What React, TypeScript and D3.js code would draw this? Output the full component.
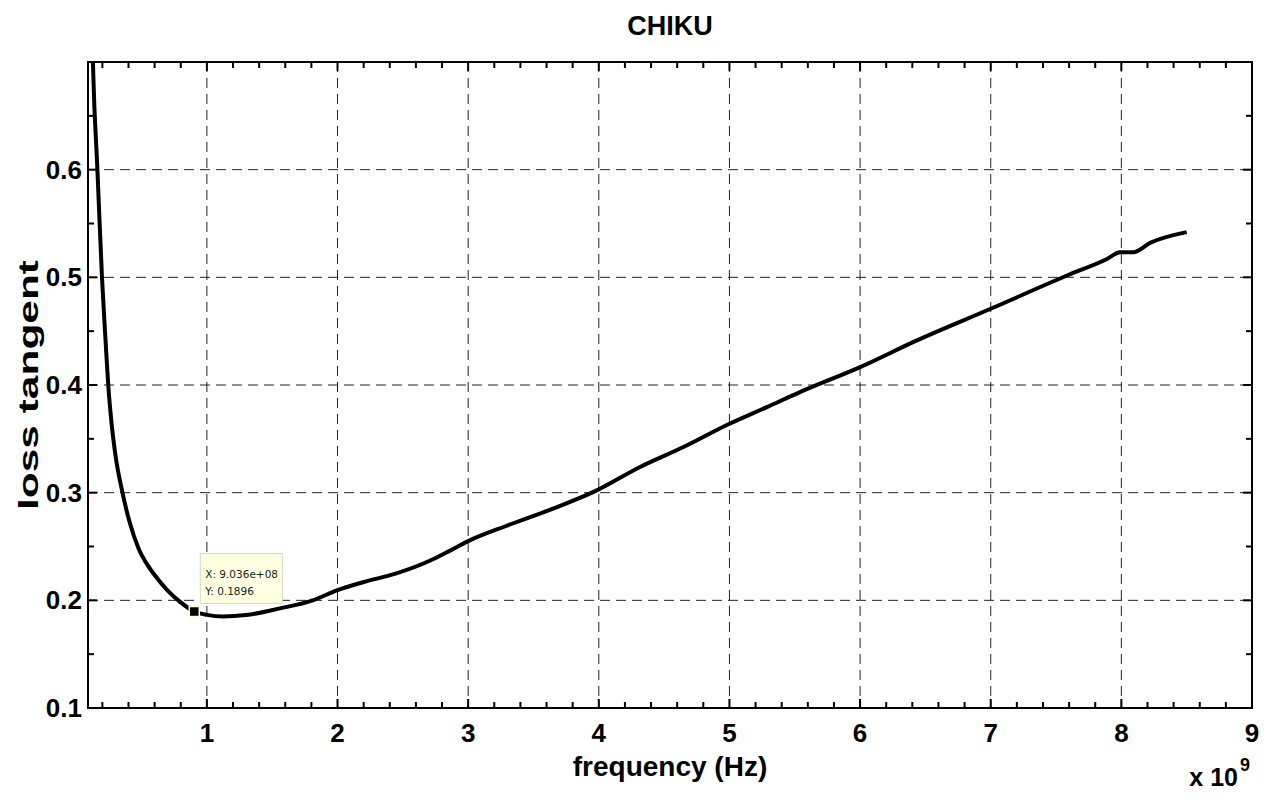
import React, { useRef, useEffect } from "react";
import { select, scaleLinear, line, curveMonotoneX, range } from "d3";

// frequency in units of 1e9 Hz
const freq = [
  0.12, 0.13, 0.162, 0.197, 0.225, 0.245, 0.27, 0.3, 0.354, 0.41, 0.478, 0.55,
  0.6, 0.7, 0.79, 0.9036, 1.0, 1.125, 1.3, 1.56, 1.81, 2.0, 2.2, 2.45, 2.71,
  2.85, 3.0, 3.3, 3.65, 3.96, 4.316, 4.648, 5.0, 5.287, 5.54, 6.0, 6.435, 7.0,
  7.584, 7.89, 7.99, 8.09, 8.22, 8.5,
];
const lossTangent = [
  0.74, 0.69, 0.6, 0.5, 0.44, 0.4, 0.365, 0.335, 0.3, 0.272, 0.248, 0.232,
  0.2235, 0.209, 0.199, 0.1896, 0.1865, 0.185, 0.1863, 0.1925, 0.2, 0.2095,
  0.217, 0.225, 0.237, 0.2455, 0.255, 0.2695, 0.2852, 0.3007, 0.3239, 0.3424,
  0.364, 0.3795, 0.3934, 0.4166, 0.4414, 0.4708, 0.5017, 0.517, 0.5233, 0.5233,
  0.532, 0.542,
];
const xTicks = [1, 2, 3, 4, 5, 6, 7, 8, 9];
const yTicks = [0.1, 0.2, 0.3, 0.4, 0.5, 0.6];
const tipX = 0.9036;
const tipY = 0.1896;

const W = 1275;
const H = 800;
const margin = { top: 62, right: 23, bottom: 92, left: 88 };
const FONT = "'Liberation Sans', Arial, sans-serif";

const App = () => {
  const svgRef = useRef<SVGSVGElement>(null);

  useEffect(() => {
    const svg = select(svgRef.current);
    svg.selectAll("*").remove();

    const x0 = margin.left;
    const x1 = W - margin.right;
    const y0 = H - margin.bottom;
    const y1 = margin.top;

    const xScale = scaleLinear().domain([0.09, 9]).range([x0, x1]);
    const yScale = scaleLinear().domain([0.1, 0.7]).range([y0, y1]);

    svg.append("rect").attr("width", W).attr("height", H).attr("fill", "#fff");

    svg.append("defs").append("clipPath").attr("id", "plotclip")
      .append("rect").attr("x", x0).attr("y", y1).attr("width", x1 - x0).attr("height", y0 - y1);

    // grid
    const grid = svg.append("g").attr("stroke", "#222").attr("stroke-width", 1)
      .attr("stroke-dasharray", "10,6");
    xTicks.filter((t) => t < 9).forEach((t) => {
      grid.append("line").attr("x1", xScale(t)).attr("x2", xScale(t))
        .attr("y1", y1).attr("y2", y0);
    });
    yTicks.filter((t) => t > 0.1).forEach((t) => {
      grid.append("line").attr("x1", x0).attr("x2", x1)
        .attr("y1", yScale(t)).attr("y2", yScale(t));
    });

    // ticks on all four sides, inward
    const ticks = svg.append("g").attr("stroke", "#000").attr("stroke-width", 2);
    const xMinor = range(0.2, 9, 0.2).map((v) => +v.toFixed(1));
    xMinor.forEach((t) => {
      const major = Math.abs(t - Math.round(t)) < 1e-6;
      const len = major ? 9 : 6;
      ticks.append("line").attr("x1", xScale(t)).attr("x2", xScale(t)).attr("y1", y0).attr("y2", y0 - len);
      ticks.append("line").attr("x1", xScale(t)).attr("x2", xScale(t)).attr("y1", y1).attr("y2", y1 + len);
    });
    const yMinor = range(0.15, 0.7, 0.05).map((v) => +v.toFixed(2));
    yMinor.forEach((t) => {
      const major = Math.abs(t * 10 - Math.round(t * 10)) < 1e-6;
      const len = major ? 9 : 6;
      ticks.append("line").attr("x1", x0).attr("x2", x0 + len).attr("y1", yScale(t)).attr("y2", yScale(t));
      ticks.append("line").attr("x1", x1).attr("x2", x1 - len).attr("y1", yScale(t)).attr("y2", yScale(t));
    });

    // the curve
    const myLine = line<number>()
      .x((d, i) => xScale(freq[i]))
      .y((d) => yScale(d))
      .curve(curveMonotoneX);
    svg.append("path")
      .datum(lossTangent)
      .attr("clip-path", "url(#plotclip)")
      .attr("d", myLine)
      .attr("fill", "none")
      .attr("stroke", "#000")
      .attr("stroke-width", 4)
      .attr("stroke-linejoin", "round");

    // box
    svg.append("rect").attr("x", x0).attr("y", y1).attr("width", x1 - x0).attr("height", y0 - y1)
      .attr("fill", "none").attr("stroke", "#000").attr("stroke-width", 2);

    // tick labels
    xTicks.forEach((t) => {
      svg.append("text").attr("x", xScale(t)).attr("y", y0 + 34)
        .attr("text-anchor", "middle").attr("font-family", FONT).attr("font-weight", "bold")
        .attr("font-size", 26).text(String(t));
    });
    yTicks.forEach((t) => {
      svg.append("text").attr("x", x0 - 6).attr("y", yScale(t) + 9)
        .attr("text-anchor", "end").attr("font-family", FONT).attr("font-weight", "bold")
        .attr("font-size", 26).text(t.toFixed(1));
    });

    // title and labels
    svg.append("text").attr("x", (x0 + x1) / 2).attr("y", 35).attr("text-anchor", "middle")
      .attr("font-family", FONT).attr("font-weight", "bold").attr("font-size", 27).text("CHIKU");
    svg.append("text").attr("x", (x0 + x1) / 2).attr("y", 776).attr("text-anchor", "middle")
      .attr("font-family", FONT).attr("font-weight", "bold").attr("font-size", 28).text("frequency (Hz)");
    svg.append("text").attr("transform", `translate(38,${(y0 + y1) / 2}) rotate(-90)`)
      .attr("text-anchor", "middle").attr("font-family", FONT).attr("font-weight", "bold")
      .attr("font-size", 28).attr("textLength", 250).attr("lengthAdjust", "spacingAndGlyphs")
      .text("loss tangent");

    svg.append("text").attr("x", x1 - 14).attr("y", 786).attr("text-anchor", "end")
      .attr("font-family", FONT).attr("font-weight", "bold").attr("font-size", 25).text("x 10");
    svg.append("text").attr("x", x1 - 12).attr("y", 771).attr("font-family", FONT)
      .attr("font-weight", "bold").attr("font-size", 18).text("9");

    // data tip
    const mx = xScale(tipX);
    const my = yScale(tipY);
    svg.append("rect").attr("x", mx + 6).attr("y", my - 58).attr("width", 82).attr("height", 50)
      .attr("fill", "#ffffe1").attr("stroke", "#d8d8c0").attr("stroke-width", 1);
    svg.append("text").attr("x", mx + 11).attr("y", my - 34).attr("font-family", "'DejaVu Sans', Tahoma, sans-serif")
      .attr("font-size", 10.5).attr("fill", "#222").text("X: 9.036e+08");
    svg.append("text").attr("x", mx + 11).attr("y", my - 17).attr("font-family", "'DejaVu Sans', Tahoma, sans-serif")
      .attr("font-size", 10.5).attr("fill", "#222").text("Y: 0.1896");
    svg.append("rect").attr("x", mx - 5).attr("y", my - 5).attr("width", 10).attr("height", 10)
      .attr("fill", "#000").attr("stroke", "#ffffcc").attr("stroke-width", 1.5);
  }, []);

  return (
    <div style={{ position: "absolute", left: 0, top: 0 }}>
      <svg ref={svgRef} width={W} height={H} style={{ display: "block" }} />
    </div>
  );
};

export default App;
